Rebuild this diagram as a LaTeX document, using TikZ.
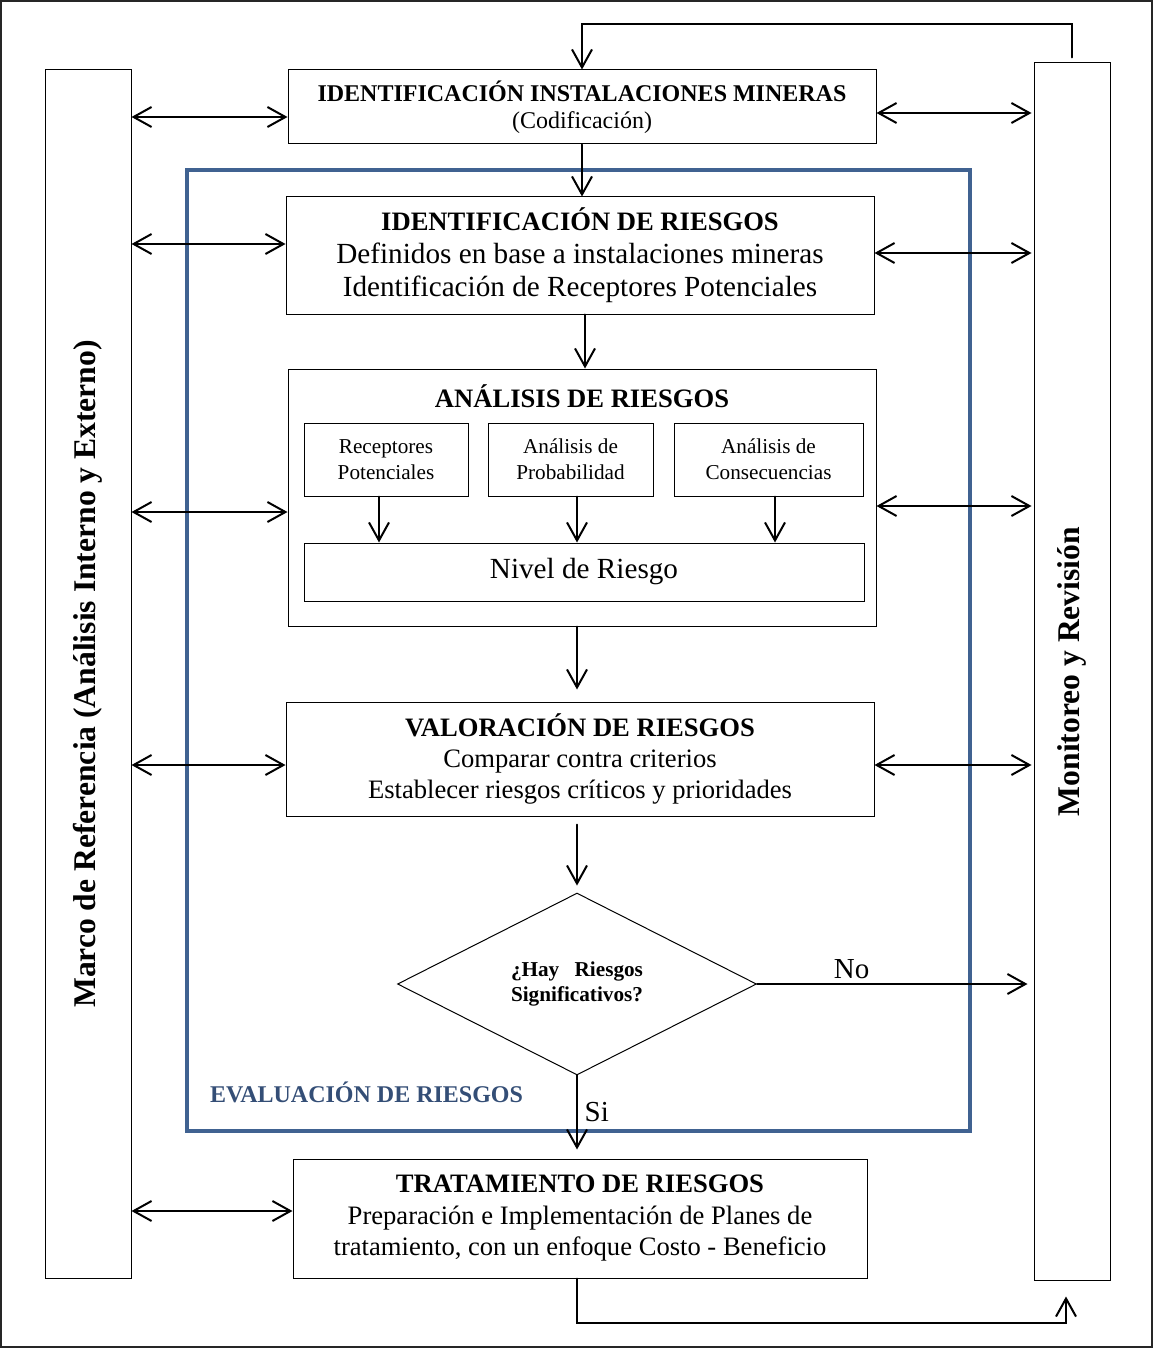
\documentclass[tikz,border=0pt]{standalone}
\usepackage{fontspec}
\setmainfont{Liberation Serif}
\usetikzlibrary{arrows.meta,shapes.geometric}
\definecolor{evalblue}{RGB}{64,98,145}
\definecolor{evaltxt}{RGB}{52,78,118}
\newcommand{\boxhead}[1]{{\fontsize{13.3}{16.5}\selectfont\bfseries #1}}

\begin{document}
\begin{tikzpicture}[x=0.5pt,y=-0.5pt,>={Straight Barb[length=9pt,width=10pt]},line cap=round,
  box/.style={draw,line width=0.5pt,inner sep=0pt,align=center},
  arr/.style={->,line width=1pt},
  dbl/.style={<->,line width=1pt}]
\useasboundingbox (0,0) rectangle (1153,1348);
\draw[line width=0.8pt,black!85] (1,1) rectangle (1152,1347);
% evaluation frame
\draw[evalblue,line width=1.75pt] (187,170) rectangle (970,1131);
\node[font=\fontsize{12}{14}\selectfont\bfseries,text=evaltxt,anchor=west] (evaltit) at (203,1092) {EVALUACIÓN DE RIESGOS};
% side bars
\node[box,rotate=90,minimum width=604pt,minimum height=43pt,font=\fontsize{15.8}{18}\selectfont\bfseries] (marco) at (88,674) {Marco de Referencia (Análisis Interno y Externo)};
\node[box,rotate=90,minimum width=608.5pt,minimum height=38pt,font=\fontsize{15.8}{18}\selectfont\bfseries] (monit) at (1072,671.5) {Monitoreo y Revisión};
% main boxes
\node[box,minimum width=294pt,minimum height=37pt,font=\fontsize{12}{13.5}\selectfont] (inst) at (582,107) {\textbf{IDENTIFICACIÓN INSTALACIONES MINERAS}\\(Codificación)};
\node[box,minimum width=294pt,minimum height=58.5pt,font=\fontsize{14.6}{16.5}\selectfont] (ident) at (580,255.5) {\boxhead{IDENTIFICACIÓN DE RIESGOS}\\Definidos en base a instalaciones mineras\\Identificación de Receptores Potenciales};
\node[box,minimum width=294pt,minimum height=128.5pt] (anal) at (582,497.5) {};
\node[font=\fontsize{13.3}{16}\selectfont\bfseries] (analtit) at (582,396) {ANÁLISIS DE RIESGOS};
\node[box,minimum width=82pt,minimum height=36.5pt,font=\fontsize{10.6}{13}\selectfont] (recep) at (386,459.5) {Receptores\\Potenciales};
\node[box,minimum width=82.5pt,minimum height=36.5pt,font=\fontsize{10.6}{13}\selectfont] (proba) at (570.5,459.5) {Análisis de\\Probabilidad};
\node[box,minimum width=94.5pt,minimum height=36.5pt,font=\fontsize{10.6}{13}\selectfont] (conse) at (768.5,459.5) {Análisis de\\Consecuencias};
\node[box,minimum width=280pt,minimum height=29pt,font=\fontsize{14.6}{16}\selectfont] (nivel) at (584,572) {Nivel de Riesgo};
\node[box,minimum width=294pt,minimum height=57pt,font=\fontsize{13.3}{15.5}\selectfont] (valo) at (580,759) {\boxhead{VALORACIÓN DE RIESGOS}\\Comparar contra criterios\\Establecer riesgos críticos y prioridades};
\node[draw,diamond,line width=0.5pt,inner sep=0pt,minimum width=179.5pt,minimum height=90pt,font=\fontsize{10.6}{12.5}\selectfont\bfseries] (signif) at (577,984) {\begin{tabular}{@{}l@{}}¿Hay\hfill Riesgos\\Significativos?\end{tabular}};
\node[box,minimum width=287pt,minimum height=59.5pt,font=\fontsize{13.3}{15.75}\selectfont] (trat) at (580,1218.5) {\boxhead{TRATAMIENTO DE RIESGOS}\\Preparación e Implementación de Planes de\\tratamiento, con un enfoque Costo - Beneficio};
% flow
\coordinate (loop) at (582,24);
\draw[arr] ([yshift=2.5pt]monit.east) |- (loop) -- (inst.north);
\draw[arr] (inst.south) -- (inst.south |- ident.north);
\draw[arr] ([xshift=2.5pt]ident.south) -- ([xshift=2.5pt]ident.south |- anal.north);
\foreach \s/\dx in {recep/-3.5pt,proba/3.25pt,conse/3.25pt}
  \draw[arr] ([xshift=\dx]\s.south) -- ([xshift=\dx]\s.south |- nivel.north);
\draw[arr] ([xshift=-2.5pt]anal.south) -- ([xshift=-2.5pt,yshift=6pt]anal.south |- valo.north);
\draw[arr] ([yshift=-4pt]signif.north |- valo.south) -- ([yshift=3.5pt]signif.north);
\draw[arr] (signif.south) -- node[right,font=\fontsize{14.5}{16}\selectfont]{Si} ([yshift=4.5pt]signif.south |- trat.north);
\draw[arr] (signif.east) -- node[above,pos=0.35,inner sep=2pt,font=\fontsize{14.5}{16}\selectfont]{No} ([xshift=-3pt]signif.east -| monit.north);
\draw[arr] ([xshift=-1.5pt]trat.south) |- ([xshift=-3pt,yshift=-21pt]monit.west) -- ([xshift=-3pt,yshift=-8pt]monit.west);
% links to the side bars
\foreach \b/\dy [count=\i] in {inst/-5pt,ident/5.75pt,anal/-7.25pt,valo/-3pt,trat/3.75pt}{
  \path ([yshift=\dy]\b.west) coordinate (lft\i);
  \draw[dbl] (marco.south |- lft\i) -- (lft\i);
}
\foreach \b/\dy [count=\i] in {inst/-3pt,ident/1.25pt,anal/-4.25pt,valo/-3pt}{
  \path ([yshift=\dy]\b.east) coordinate (rgt\i);
  \draw[dbl] (rgt\i) -- ([xshift=-1pt]monit.north |- rgt\i);
}
\end{tikzpicture}
\end{document}
